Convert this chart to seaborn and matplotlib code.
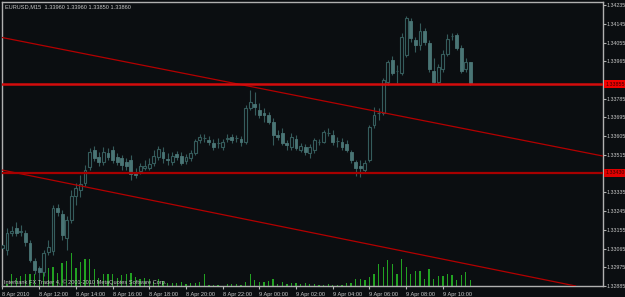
import matplotlib
matplotlib.use("Agg")
import matplotlib.pyplot as plt
import seaborn as sns
import numpy as np

# ---------------- data ----------------
symbol_title = "EURUSD,M15  1.33960 1.33960 1.33850 1.33860"
footer_text = "Interbank FX Trader 4, © 2001-2010 MetaQuotes Software Corp."

bar_idx = list(range(103))
opens = [1.33069, 1.33059, 1.33141, 1.33165, 1.33145, 1.33141, 1.33093, 1.33006, 1.32973, 1.32953,
         1.33049, 1.33054, 1.33261, 1.33232, 1.33117, 1.33203, 1.33318, 1.33347, 1.33381, 1.33457,
         1.33539, 1.33505, 1.33481, 1.33525, 1.33539, 1.33505, 1.33501, 1.33481, 1.33491, 1.33433,
         1.33438, 1.33453, 1.33453, 1.33477, 1.33505, 1.33529, 1.33496, 1.33481, 1.33520, 1.33510,
         1.33486, 1.33501, 1.33525, 1.33587, 1.33597, 1.33587, 1.33573, 1.33573, 1.33553, 1.33592,
         1.33601, 1.33597, 1.33592, 1.33577, 1.33741, 1.33760, 1.33731, 1.33717, 1.33707, 1.33673,
         1.33611, 1.33621, 1.33573, 1.33553, 1.33592, 1.33539, 1.33553, 1.33525, 1.33539, 1.33577,
         1.33577, 1.33621, 1.33611, 1.33582, 1.33577, 1.33568, 1.33529, 1.33481, 1.33462, 1.33443,
         1.33491, 1.33659, 1.33717, 1.33717, 1.33865, 1.33971, 1.33918, 1.33909, 1.33995, 1.34158,
         1.34067, 1.34043, 1.34110, 1.34053, 1.33918, 1.33865, 1.33928, 1.34000, 1.34086, 1.34091,
         1.34029, 1.33928, 1.33960]
highs = [1.33107, 1.33165, 1.33174, 1.33193, 1.33179, 1.33155, 1.33107, 1.33021, 1.32982, 1.33059,
         1.33107, 1.33275, 1.33280, 1.33251, 1.33222, 1.33347, 1.33381, 1.33419, 1.33467, 1.33549,
         1.33558, 1.33529, 1.33553, 1.33549, 1.33558, 1.33525, 1.33515, 1.33501, 1.33515, 1.33453,
         1.33477, 1.33491, 1.33501, 1.33539, 1.33558, 1.33553, 1.33525, 1.33529, 1.33534, 1.33529,
         1.33520, 1.33539, 1.33592, 1.33616, 1.33616, 1.33606, 1.33592, 1.33597, 1.33592, 1.33616,
         1.33616, 1.33611, 1.33606, 1.33755, 1.33827, 1.33817, 1.33765, 1.33741, 1.33721, 1.33693,
         1.33635, 1.33645, 1.33587, 1.33621, 1.33611, 1.33573, 1.33568, 1.33568, 1.33597, 1.33592,
         1.33635, 1.33645, 1.33635, 1.33601, 1.33597, 1.33587, 1.33539, 1.33491, 1.33491, 1.33491,
         1.33659, 1.33745, 1.33741, 1.33885, 1.33971, 1.33990, 1.33947, 1.34101, 1.34182, 1.34173,
         1.34081, 1.34149, 1.34125, 1.34067, 1.33981, 1.33952, 1.34019, 1.34096, 1.34101, 1.34101,
         1.34043, 1.33981, 1.33960]
lows = [1.33049, 1.33035, 1.33126, 1.33126, 1.33126, 1.33078, 1.33001, 1.32944, 1.32915, 1.32934,
        1.33035, 1.33035, 1.33222, 1.33107, 1.33059, 1.33189, 1.33275, 1.33313, 1.33366, 1.33443,
        1.33486, 1.33462, 1.33467, 1.33491, 1.33477, 1.33467, 1.33443, 1.33443, 1.33395, 1.33405,
        1.33424, 1.33443, 1.33443, 1.33462, 1.33491, 1.33477, 1.33467, 1.33467, 1.33491, 1.33467,
        1.33472, 1.33486, 1.33515, 1.33573, 1.33577, 1.33563, 1.33539, 1.33549, 1.33539, 1.33577,
        1.33573, 1.33577, 1.33558, 1.33568, 1.33731, 1.33707, 1.33693, 1.33673, 1.33664, 1.33563,
        1.33587, 1.33563, 1.33539, 1.33539, 1.33539, 1.33529, 1.33515, 1.33501, 1.33525, 1.33563,
        1.33573, 1.33606, 1.33563, 1.33553, 1.33539, 1.33529, 1.33477, 1.33414, 1.33409, 1.33433,
        1.33481, 1.33645, 1.33683, 1.33707, 1.33850, 1.33899, 1.33860, 1.33899, 1.33985, 1.34057,
        1.34009, 1.34019, 1.34043, 1.33913, 1.33860, 1.33856, 1.33913, 1.33990, 1.34067, 1.34019,
        1.33909, 1.33913, 1.33850]
closes = [1.33083, 1.33141, 1.33150, 1.33141, 1.33150, 1.33097, 1.33011, 1.32963, 1.32953, 1.33045,
          1.33073, 1.33261, 1.33241, 1.33131, 1.33203, 1.33318, 1.33357, 1.33376, 1.33443, 1.33529,
          1.33501, 1.33481, 1.33529, 1.33505, 1.33491, 1.33481, 1.33467, 1.33462, 1.33424, 1.33419,
          1.33462, 1.33462, 1.33472, 1.33510, 1.33544, 1.33501, 1.33491, 1.33510, 1.33505, 1.33477,
          1.33505, 1.33525, 1.33582, 1.33601, 1.33597, 1.33577, 1.33553, 1.33573, 1.33577, 1.33597,
          1.33587, 1.33597, 1.33577, 1.33741, 1.33769, 1.33745, 1.33707, 1.33707, 1.33673, 1.33611,
          1.33601, 1.33573, 1.33563, 1.33601, 1.33549, 1.33558, 1.33529, 1.33553, 1.33587, 1.33577,
          1.33625, 1.33621, 1.33577, 1.33582, 1.33553, 1.33539, 1.33491, 1.33453, 1.33453, 1.33477,
          1.33649, 1.33707, 1.33717, 1.33875, 1.33961, 1.33909, 1.33918, 1.34081, 1.34173, 1.34077,
          1.34043, 1.34110, 1.34057, 1.33928, 1.33865, 1.33937, 1.34000, 1.34072, 1.34086, 1.34029,
          1.33918, 1.33961, 1.33860]
volumes = [130, 20, 120, 80, 100, 120, 120, 120, 170, 130,
           180, 190, 130, 230, 250, 330, 180, 240, 270, 270,
           170, 80, 120, 120, 120, 80, 110, 120, 130, 90,
           70, 80, 70, 40, 70, 50, 30, 30, 30, 40,
           20, 30, 30, 40, 120, 10, 10, 10, 5, 20,
           20, 20, 10, 40, 120, 60, 40, 40, 50, 70,
           20, 40, 20, 30, 30, 20, 30, 20, 20, 10,
           10, 20, 10, 10, 10, 30, 30, 70, 70, 60,
           90, 120, 220, 190, 260, 220, 120, 270, 190, 120,
           150, 150, 70, 170, 70, 100, 100, 120, 110, 60,
           110, 140, 60]

date_label_bars = [0, 8, 16, 24, 32, 40, 48, 56, 64, 72, 80, 88, 96]
date_labels = ["8 Apr 2010", "8 Apr 12:00", "8 Apr 14:00", "8 Apr 16:00", "8 Apr 18:00",
               "8 Apr 20:00", "8 Apr 22:00", "9 Apr 00:00", "9 Apr 02:00", "9 Apr 04:00",
               "9 Apr 06:00", "9 Apr 08:00", "9 Apr 10:00"]
price_ticks = [1.34235, 1.34145, 1.34055, 1.33965, 1.33785, 1.33695, 1.33605,
               1.33515, 1.33335, 1.33245, 1.33155, 1.33065, 1.32975, 1.32885]

hline_prices = [1.33855, 1.33430]
hline_labels = ["1.33855", "1.33430"]
trend_upper = [(0, 1.34079), (120, 1.33557)]
trend_lower = [(0, 1.33442), (120, 1.32907)]

# ---------------- style ----------------
BG = "#0b0e11"
FG = "#c8c8c8"
BULL_EDGE = "#355c5c"
BEAR_FILL = "#4a7575"
WICK = "#355b5b"
VOL = "#22a222"

sns.set_theme(style="dark", rc={"axes.facecolor": BG, "figure.facecolor": BG})
plt.rcParams["font.family"] = ["Liberation Sans", "DejaVu Sans"]
FS = 4.1
FSY = 3.8

fig = plt.figure(figsize=(6.25, 2.97), dpi=100)
fig.patch.set_facecolor(BG)
rect = [2 / 625, 11 / 297, 601 / 625, 284 / 297]

XMIN, XMAX = -0.1, 130.9

# volume axes (behind)
axv = fig.add_axes(rect)
axv.set_facecolor(BG)
sns.barplot(x=bar_idx, y=volumes, native_scale=True, ax=axv, color=VOL,
            saturation=1, width=0.28, errorbar=None, linewidth=0)
axv.set_xlim(XMIN, XMAX)
axv.set_ylim(0, 2840)
axv.axis("off")

# price axes (front)
ax = fig.add_axes(rect)
ax.patch.set_visible(False)
ax.set_xlim(XMIN, XMAX)
ax.set_ylim(1.32885, 1.34250)

o = np.array(opens); c = np.array(closes); h = np.array(highs); l = np.array(lows)
x = np.array(bar_idx)
ax.vlines(x, l, h, color=WICK, linewidth=0.8, zorder=2)
bull = c >= o
body_lo = np.minimum(o, c)
body_h = np.maximum(np.abs(c - o), 0.000015)
ax.bar(x[bull], body_h[bull], bottom=body_lo[bull], width=0.62, facecolor=BG,
       edgecolor=BULL_EDGE, linewidth=0.8, zorder=3)
ax.bar(x[~bull], body_h[~bull], bottom=body_lo[~bull], width=0.62, facecolor=BEAR_FILL,
       edgecolor=BEAR_FILL, linewidth=0.6, zorder=3)

# trend lines and horizontal lines
ax.axline(trend_upper[0], trend_upper[1], color="#b30000", linewidth=0.9, zorder=4)
ax.axline(trend_lower[0], trend_lower[1], color="#b30000", linewidth=0.9, zorder=4)
ax.axhline(hline_prices[0], color="#d40c0c", linewidth=1.8, zorder=4)
ax.axhline(hline_prices[1], color="#a80000", linewidth=1.6, zorder=4)

# frame
for s in ax.spines.values():
    s.set_color("#b0b0b0")
    s.set_linewidth(1.0)
    s.set_visible(True)

ax.yaxis.tick_right()
ax.set_yticks(price_ticks)
ax.set_yticklabels([f"{p:.5f}" for p in price_ticks])
ax.set_xticks(date_label_bars)
ax.set_xticklabels(date_labels)
for t in ax.get_xticklabels():
    t.set_ha("left")
ax.tick_params(axis="x", colors="#b0b0b0", labelcolor=FG, labelsize=FS,
               length=2.5, width=0.8, pad=1.5, bottom=True)
ax.tick_params(axis="y", colors="#b0b0b0", labelcolor=FG, labelsize=FSY,
               length=1.8, width=0.8, pad=0.8, right=True, left=False)
ax.grid(False)

# red price labels on the axis
for p, lab, col in zip(hline_prices, hline_labels, ["#f00000", "#e00000"]):
    ax.annotate(lab, xy=(1.0, p), xycoords=("axes fraction", "data"),
                xytext=(2.0, 0), textcoords="offset points", ha="left", va="center",
                fontsize=FSY, color="#3a0000",
                bbox=dict(boxstyle="square,pad=0.3", fc=col, ec="none"),
                annotation_clip=False, zorder=6)

# texts
ax.text(3 / 601, 1 - 5 / 284, symbol_title, transform=ax.transAxes, fontsize=FS,
        color=FG, ha="left", va="center", zorder=6)
ax.text(2 / 601, 3.5 / 284, footer_text, transform=ax.transAxes, fontsize=FS,
        color=FG, ha="left", va="center", zorder=6)

fig.savefig("out.png", dpi=100, facecolor=BG)
